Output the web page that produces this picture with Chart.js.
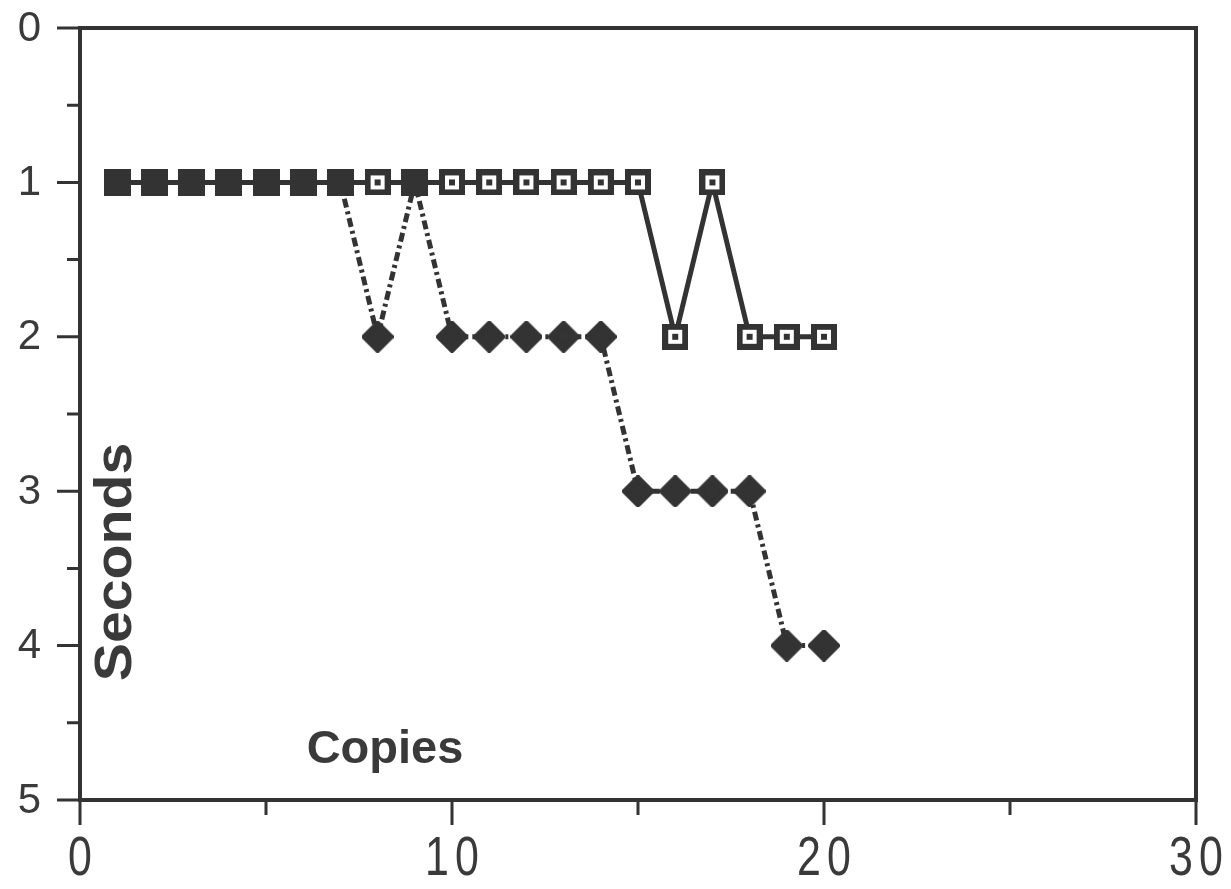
<!DOCTYPE html>
<html>
<head>
<meta charset="utf-8">
<script src="https://cdn.jsdelivr.net/npm/chart.js@4/dist/chart.umd.min.js"></script>
<style>
  body { margin: 0; background: #fff; }
  #wrap { width: 1231px; height: 889px; }
</style>
</head>
<body>
<div id="wrap"><canvas id="chart" width="1231" height="889"></canvas></div>
<script>
const copies = [1, 2, 3, 4, 5, 6, 7, 8, 9, 10, 11, 12, 13, 14, 15, 16, 17, 18, 19, 20];
const secondsSquares = [1, 1, 1, 1, 1, 1, 1, 1, 1, 1, 1, 1, 1, 1, 1, 2, 1, 2, 2, 2];
const secondsDiamonds = [1, 1, 1, 1, 1, 1, 1, 2, 1, 2, 2, 2, 2, 2, 3, 3, 3, 3, 4, 4];
const xTickLabels = [0, 10, 20, 30];
const yTickLabels = [0, 1, 2, 3, 4, 5];

const ink = '#333333';
const textInk = '#3a3a3a';

// marker images
function makeMarker(size, draw) {
  const c = document.createElement('canvas');
  c.width = size; c.height = size;
  draw(c.getContext('2d'), size);
  return c;
}
const openSquare = makeMarker(26, (g, s) => {
  g.fillStyle = ink; g.fillRect(0, 0, s, s);
  g.fillStyle = '#fff'; g.fillRect(6, 6, s - 12, s - 12);
  g.fillStyle = ink; g.fillRect(s / 2 - 3, s / 2 - 3, 6, 6);
});
const filledSquare = makeMarker(27, (g, s) => {
  g.fillStyle = ink; g.fillRect(0, 0, s, s);
});
const diamond = makeMarker(32, (g, s) => {
  const h = s / 2;
  g.beginPath();
  g.moveTo(h, 3); g.lineTo(s - 3, h); g.lineTo(h, s - 3); g.lineTo(3, h);
  g.closePath();
  g.fillStyle = ink; g.strokeStyle = ink;
  g.lineWidth = 6; g.lineJoin = 'round';
  g.fill(); g.stroke();
});

const framePlugin = {
  id: 'frame',
  afterDatasetsDraw(chart) {
    const { ctx, chartArea: a, scales } = chart;
    ctx.save();
    ctx.strokeStyle = ink;
    ctx.lineWidth = 4;
    ctx.strokeRect(a.left, a.top, a.right - a.left, a.bottom - a.top);
    ctx.lineWidth = 3;
    ctx.beginPath();
    for (let v = 0; v <= 5; v += 0.5) {
      const y = scales.y.getPixelForValue(v);
      const len = Number.isInteger(v) ? 23 : 13;
      ctx.moveTo(a.left - len, y); ctx.lineTo(a.left, y);
    }
    for (let v = 0; v <= 30; v += 5) {
      const x = scales.x.getPixelForValue(v);
      const len = v % 10 === 0 ? 25 : 15;
      ctx.moveTo(x, a.bottom); ctx.lineTo(x, a.bottom + len);
    }
    ctx.stroke();

    // tick labels
    ctx.fillStyle = textInk;
    ctx.textBaseline = 'middle';
    ctx.font = '42px "Liberation Sans", Arial, sans-serif';
    ctx.textAlign = 'right';
    yTickLabels.forEach((v) => {
      ctx.fillText(String(v), a.left - 39, scales.y.getPixelForValue(v) + 1);
    });
    ctx.textAlign = 'center';
    ctx.font = '55px "Liberation Sans", Arial, sans-serif';
    xTickLabels.forEach((v) => {
      ctx.save();
      ctx.translate(scales.x.getPixelForValue(v), a.bottom + 60);
      ctx.scale(0.78, 1);
      ctx.letterSpacing = '8px';
      ctx.fillText(String(v), 4, 0);
      ctx.restore();
    });

    ctx.font = 'bold 47px "Liberation Sans", Arial, sans-serif';
    ctx.fillText('Copies', a.left + 305, a.bottom - 50);

    ctx.translate(a.left + 37, a.top + 534);
    ctx.rotate(-Math.PI / 2);
    ctx.scale(1.1, 1);
    ctx.font = 'bold 52px "Liberation Sans", Arial, sans-serif';
    ctx.fillText('Seconds', 0, 0);
    ctx.restore();
  }
};

new Chart(document.getElementById('chart').getContext('2d'), {
  type: 'line',
  data: {
    datasets: [
      {
        label: 'Diamonds',
        data: copies.map((c, i) => ({ x: c, y: secondsDiamonds[i] })),
        borderColor: ink,
        borderWidth: 5,
        borderDash: [9, 4, 3, 4],
        pointStyle: (ctx) => secondsSquares[ctx.dataIndex] === secondsDiamonds[ctx.dataIndex] ? filledSquare : diamond,
        order: 0
      },
      {
        label: 'Squares',
        data: copies.map((c, i) => ({ x: c, y: secondsSquares[i] })),
        borderColor: ink,
        borderWidth: 5,
        pointStyle: openSquare,
        order: 1
      }
    ]
  },
  options: {
    responsive: false,
    animation: false,
    layout: { padding: { top: 28, right: 35, left: 0, bottom: 0 } },
    plugins: { legend: { display: false }, tooltip: { enabled: false } },
    scales: {
      x: {
        type: 'linear',
        min: 0, max: 30,
        grid: { display: false, drawTicks: false },
        border: { display: false },
        ticks: { display: false },
        afterFit: (s) => { s.height = 89; }
      },
      y: {
        type: 'linear',
        reverse: true,
        min: 0, max: 5,
        grid: { display: false, drawTicks: false },
        border: { display: false },
        ticks: { display: false },
        afterFit: (s) => { s.width = 80; }
      }
    }
  },
  plugins: [framePlugin]
});
</script>
</body>
</html>
